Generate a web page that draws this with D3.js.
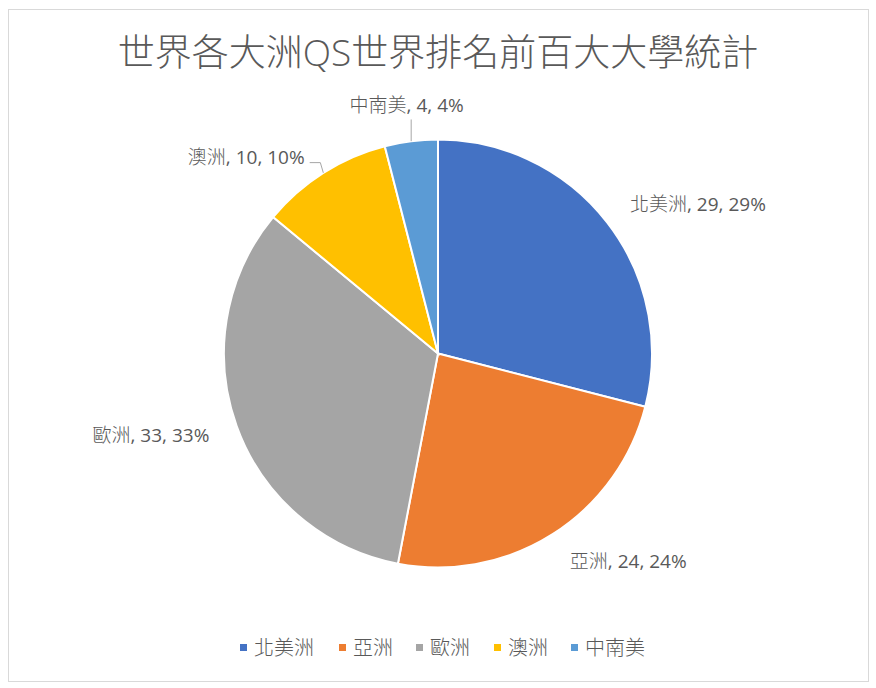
<!DOCTYPE html>
<html>
<head>
<meta charset="utf-8">
<script src="https://cdn.jsdelivr.net/npm/d3@7"></script>
<style>
    body { margin: 0; background: #fff; }
    text { font-family: "Open Sans", "Noto Sans CJK TC", sans-serif; fill: #595959; }
</style>
</head>
<body>
<div id="chart"></div>
<script>
let regions = ["北美洲", "亞洲", "歐洲", "澳洲", "中南美"];
let counts = [29, 24, 33, 10, 4];
let colors = ["#4472C4", "#ED7D31", "#A5A5A5", "#FFC000", "#5B9BD5"];

let width = 876,
    height = 688;

let cx = 438, cy = 353.5, radius = 214;

let svg = d3.select("#chart")
    .append("svg")
    .attr("width", width)
    .attr("height", height);

// chart area border
svg.append("rect")
    .attr("x", 8.5)
    .attr("y", 9.5)
    .attr("width", 860)
    .attr("height", 672)
    .attr("fill", "#fff")
    .attr("stroke", "#d9d9d9")
    .attr("stroke-width", 1);

svg.append("text")
    .attr("x", 438)
    .attr("y", 66)
    .attr("text-anchor", "middle")
    .style("font-size", "37px")
    .style("font-weight", 300)
    .text("世界各大洲QS世界排名前百大大學統計");

let data = regions.map(function(r, i) {
    return { name: r, value: counts[i], color: colors[i] };
});

let total = d3.sum(counts);

let pie = d3.pie()
    .value(function(d) { return d.value; })
    .sort(null);   // keep excel order, clockwise from top

let arc = d3.arc()
    .innerRadius(0)
    .outerRadius(radius);

let g = svg.append("g")
    .attr("transform", "translate(" + cx + "," + cy + ")");

let arcs = pie(data);

g.selectAll("path")
    .data(arcs)
    .enter()
    .append("path")
    .attr("d", arc)
    .attr("fill", function(d) { return d.data.color; })
    .attr("stroke", "#fff")
    .attr("stroke-width", 2);

// label positions: radius per slice, roughly where excel put them
let labelRadius = [243, 246, 243, 232, 250];

function polar(a, r) {
    return [Math.sin(a) * r, -Math.cos(a) * r];
}

arcs.forEach(function(d, i) {
    let mid = (d.startAngle + d.endAngle) / 2;
    let p = polar(mid, labelRadius[i]);
    let anchor = "middle";
    if (i === 0 || i === 1) anchor = "start";
    if (i === 2 || i === 3) anchor = "end";
    let x = p[0], y = p[1];
    if (i === 3) x = x - 9;
    let label = g.append("text")
        .attr("x", x)
        .attr("y", y)
        .attr("dy", "0.35em")
        .attr("text-anchor", anchor)
        .style("font-size", "19px");
    label.append("tspan")   // cjk name is lighter than the numbers
        .style("font-weight", 300)
        .text(d.data.name);
    label.append("tspan")
        .text(", " + d.data.value + ", " + Math.round(d.data.value / total * 100) + "%");

    // leader lines for the small slices
    let edge = polar(mid, radius);
    if (i === 4) {
        g.append("path")
            .attr("d", "M" + edge[0] + "," + (y + 14) + "V" + edge[1])
            .attr("stroke", "#a6a6a6")
            .attr("fill", "none");
    }
    if (i === 3) {
        g.append("path")
            .attr("d", "M" + (x + 5) + "," + (y + 5) + "H" + (edge[0] - 3) + "L" + edge[0] + "," + edge[1])
            .attr("stroke", "#a6a6a6")
            .attr("fill", "none");
    }
});

// legend along the bottom
let legendX = [240, 339, 416, 494, 571];

let legend = svg.append("g")
    .selectAll("g")
    .data(data)
    .enter()
    .append("g")
    .attr("transform", function(d, i) { return "translate(" + legendX[i] + ",648)"; });

legend.append("rect")
    .attr("x", 0)
    .attr("y", -4)
    .attr("width", 7)
    .attr("height", 7)
    .attr("fill", function(d) { return d.color; });

legend.append("text")
    .attr("x", 14)
    .attr("y", 0)
    .attr("dy", "0.35em")
    .style("font-size", "20px")
    .style("font-weight", 300)
    .text(function(d) { return d.name; });
</script>
</body>
</html>
